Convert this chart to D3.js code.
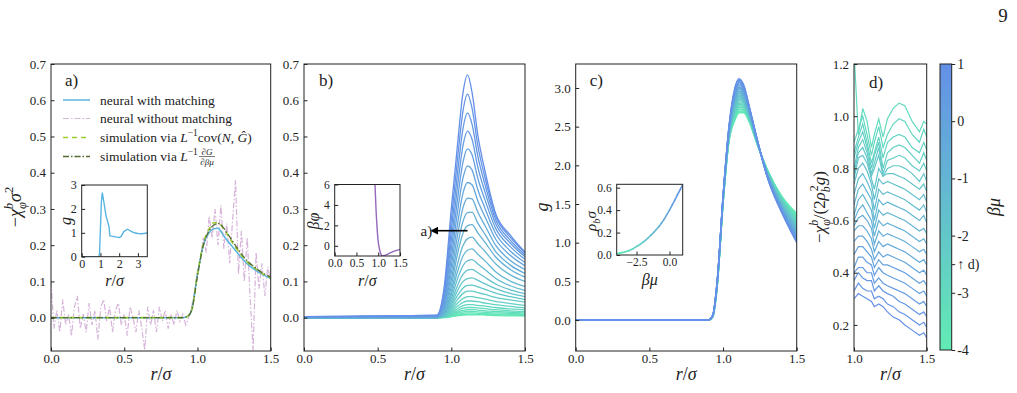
<!DOCTYPE html>
<html>
<head>
<meta charset="utf-8">
<script src="https://cdnjs.cloudflare.com/ajax/libs/d3/7.8.5/d3.min.js"></script>
<style>
body { margin: 0; background: #fff; }
svg { display: block; }
svg text { font-family: "Liberation Serif", "DejaVu Serif", serif; }
</style>
</head>
<body>
<svg id="fig" width="1017" height="393"></svg>
<script>
// beta*mu of every curve in b) and c), and bulk density for the c) inset
var muVals = [-4, -3.8, -3.6, -3.4, -3.2, -3, -2.8, -2.6, -2.4, -2.2, -2, -1.8, -1.6, -1.4, -1.2, -1, -0.8, -0.6, -0.4, -0.2, 0, 0.2, 0.4, 0.6, 0.8, 1];
var rhoVals = [0.014, 0.017, 0.021, 0.027, 0.034, 0.043, 0.054, 0.068, 0.082, 0.097, 0.114, 0.133, 0.154, 0.177, 0.201, 0.227, 0.254, 0.285, 0.32, 0.36, 0.40, 0.445, 0.49, 0.535, 0.58, 0.625];

// panel a)
var rA = [0, 0.9, 0.93, 0.96, 1.0, 1.04, 1.08, 1.11, 1.14, 1.17, 1.2, 1.25, 1.3, 1.35, 1.4, 1.45, 1.5];
var neuralMatch = [0, 0, 0.003, 0.02, 0.12, 0.2, 0.235, 0.245, 0.247, 0.232, 0.215, 0.19, 0.165, 0.145, 0.13, 0.118, 0.108];
var simCov = [0, 0, 0.003, 0.02, 0.12, 0.205, 0.245, 0.262, 0.262, 0.25, 0.232, 0.2, 0.172, 0.15, 0.134, 0.12, 0.11];
var simDeriv = [0, 0, 0.003, 0.02, 0.115, 0.2, 0.24, 0.255, 0.26, 0.252, 0.235, 0.205, 0.176, 0.153, 0.136, 0.122, 0.112];
var rNoisy = d3.range(0, 1.501, 0.02);
var neuralNoMatch = [0.10, -0.03, 0.02, -0.04, 0.05, -0.02, 0.01, -0.05, 0.03, 0.06, -0.03, 0.01, -0.04, 0.04, -0.02, 0.02,
  -0.06, 0.03, 0.05, -0.01, 0.03, -0.04, 0.02, 0.04, -0.02, 0.01, -0.05, 0.03, 0.00, -0.04, 0.02, -0.03, -0.09, 0.03,
  -0.02, 0.02, -0.04, 0.03, -0.01, 0.02, -0.03, 0.01, -0.02, 0.02, -0.01, 0.01, -0.02, 0.00, 0.03, 0.07, 0.13, 0.16,
  0.22, 0.18, 0.28, 0.22, 0.30, 0.20, 0.31, 0.19, 0.26, 0.15, 0.27, 0.38, 0.12, 0.24, 0.10, 0.22, 0.05, -0.09, 0.18,
  0.08, 0.15, 0.06, 0.14, 0.10];
var insetAR = [0, 0.9, 0.95, 1.0, 1.05, 1.1, 1.2, 1.3, 1.46, 1.5, 1.6, 1.8, 2.0, 2.1, 2.25, 2.43, 2.6, 2.8, 3.0, 3.2, 3.5];
var insetAG = [0, 0, 0.1, 1.2, 2.3, 2.68, 2.2, 1.7, 1.25, 0.88, 0.86, 0.83, 0.8, 0.85, 1.05, 1.15, 1.08, 1.0, 0.97, 0.96, 0.99];

// panel b)
var rB = [0, 0.9, 0.95, 1.0, 1.04, 1.08, 1.11, 1.14, 1.18, 1.23, 1.3, 1.4, 1.5];
var chiRows = [
  [0, 0, 0, .003, .005, .007, .008, .008, .008, .007, .006, .005, .005],
  [0, 0, .001, .003, .007, .009, .010, .010, .010, .009, .008, .007, .006],
  [0, 0, .001, .004, .009, .012, .013, .013, .012, .011, .010, .009, .008],
  [0, 0, .001, .006, .012, .016, .017, .017, .016, .015, .013, .012, .010],
  [0, 0, .001, .007, .015, .020, .022, .022, .021, .019, .017, .015, .013],
  [0, 0, .001, .009, .019, .026, .028, .028, .027, .025, .022, .019, .017],
  [0, 0, .002, .012, .024, .033, .036, .036, .034, .032, .028, .024, .022],
  [0, 0, .002, .015, .031, .042, .046, .046, .044, .040, .036, .031, .027],
  [0, 0, .003, .019, .039, .053, .058, .058, .055, .051, .045, .039, .034],
  [0, 0, .004, .024, .049, .067, .073, .073, .069, .064, .056, .049, .043],
  [0, 0, .005, .030, .060, .082, .089, .090, .085, .078, .068, .058, .050],
  [0, 0, .006, .036, .073, .100, .108, .110, .103, .093, .080, .067, .058],
  [0, 0, .007, .044, .087, .120, .131, .133, .124, .111, .093, .077, .066],
  [0, 0, .009, .053, .105, .144, .157, .160, .148, .132, .109, .088, .075],
  [0, 0, .011, .063, .124, .171, .186, .190, .175, .156, .127, .101, .086],
  [0, 0, .013, .073, .145, .200, .218, .222, .204, .182, .149, .118, .100],
  [0, 0, .016, .088, .172, .234, .254, .257, .234, .207, .168, .133, .112],
  [0, .001, .021, .104, .195, .267, .290, .291, .261, .229, .183, .145, .122],
  [0, .001, .026, .123, .223, .305, .330, .328, .291, .253, .200, .158, .133],
  [.001, .002, .032, .143, .253, .345, .373, .367, .322, .277, .217, .172, .143],
  [.001, .002, .038, .165, .286, .387, .419, .408, .353, .300, .233, .184, .152],
  [.001, .003, .045, .189, .320, .431, .466, .450, .384, .323, .247, .196, .161],
  [.002, .004, .053, .214, .355, .477, .515, .493, .415, .345, .260, .206, .168],
  [.002, .005, .061, .242, .391, .524, .565, .535, .445, .365, .271, .214, .173],
  [.003, .006, .070, .271, .430, .573, .617, .579, .474, .384, .281, .222, .178],
  [.003, .007, .080, .302, .469, .623, .670, .623, .503, .402, .288, .228, .181]
];
var insetBR = [0.9, 0.926, 0.95, 0.97, 1.0, 1.03, 1.06, 1.08, 1.1, 1.15, 1.2, 1.3, 1.4, 1.5];
var insetBPhi = [8, 6, 3.5, 2.0, 0.4, -0.35, -0.8, -0.95, -1.0, -0.95, -0.85, -0.65, -0.48, -0.35];

// panel c)
var rC = [0, 0.9, 0.93, 0.96, 1.0, 1.04, 1.08, 1.11, 1.14, 1.18, 1.23, 1.3, 1.4, 1.5];
var gRows = [
  [0, 0, .04, .42, 1.5, 2.3, 2.58, 2.68, 2.68, 2.55, 2.28, 1.95, 1.6, 1.38],
  [0, 0, .04, .42, 1.5, 2.31, 2.6, 2.7, 2.69, 2.56, 2.28, 1.95, 1.59, 1.36],
  [0, 0, .04, .43, 1.51, 2.32, 2.61, 2.72, 2.71, 2.57, 2.29, 1.94, 1.58, 1.35],
  [0, 0, .04, .43, 1.51, 2.32, 2.63, 2.73, 2.72, 2.57, 2.29, 1.94, 1.57, 1.33],
  [0, 0, .04, .43, 1.52, 2.33, 2.65, 2.75, 2.74, 2.58, 2.29, 1.93, 1.56, 1.32],
  [0, 0, .04, .44, 1.52, 2.34, 2.66, 2.77, 2.75, 2.59, 2.29, 1.93, 1.56, 1.30],
  [0, 0, .04, .44, 1.52, 2.35, 2.68, 2.79, 2.77, 2.6, 2.3, 1.93, 1.55, 1.29],
  [0, 0, .05, .44, 1.53, 2.36, 2.7, 2.8, 2.78, 2.61, 2.3, 1.92, 1.54, 1.27],
  [0, 0, .05, .45, 1.53, 2.36, 2.71, 2.82, 2.8, 2.61, 2.3, 1.92, 1.53, 1.26],
  [0, 0, .05, .45, 1.54, 2.37, 2.73, 2.84, 2.81, 2.62, 2.31, 1.91, 1.52, 1.24],
  [0, 0, .05, .45, 1.54, 2.38, 2.75, 2.86, 2.82, 2.63, 2.31, 1.91, 1.51, 1.23],
  [0, 0, .05, .46, 1.54, 2.39, 2.76, 2.87, 2.84, 2.64, 2.31, 1.91, 1.5, 1.21],
  [0, 0, .05, .46, 1.55, 2.4, 2.78, 2.89, 2.85, 2.65, 2.31, 1.9, 1.49, 1.2],
  [0, 0, .05, .46, 1.55, 2.4, 2.8, 2.91, 2.87, 2.65, 2.32, 1.9, 1.49, 1.18],
  [0, 0, .05, .46, 1.56, 2.41, 2.82, 2.93, 2.88, 2.66, 2.32, 1.89, 1.48, 1.17],
  [0, 0, .05, .47, 1.56, 2.42, 2.83, 2.94, 2.9, 2.67, 2.32, 1.89, 1.47, 1.15],
  [0, 0, .05, .47, 1.56, 2.43, 2.85, 2.96, 2.91, 2.68, 2.32, 1.89, 1.46, 1.14],
  [0, 0, .05, .47, 1.57, 2.44, 2.87, 2.98, 2.92, 2.69, 2.33, 1.88, 1.45, 1.12],
  [0, 0, .05, .48, 1.57, 2.44, 2.88, 3.0, 2.94, 2.69, 2.33, 1.88, 1.44, 1.11],
  [0, 0, .06, .48, 1.58, 2.45, 2.9, 3.01, 2.95, 2.7, 2.33, 1.87, 1.43, 1.09],
  [0, 0, .06, .48, 1.58, 2.46, 2.92, 3.03, 2.97, 2.71, 2.34, 1.87, 1.42, 1.08],
  [0, 0, .06, .49, 1.58, 2.47, 2.93, 3.05, 2.98, 2.72, 2.34, 1.87, 1.42, 1.06],
  [0, 0, .06, .49, 1.59, 2.48, 2.95, 3.07, 3.0, 2.73, 2.34, 1.86, 1.41, 1.05],
  [0, 0, .06, .49, 1.59, 2.48, 2.97, 3.08, 3.01, 2.73, 2.34, 1.86, 1.40, 1.03],
  [0, 0, .06, .5, 1.6, 2.49, 2.98, 3.1, 3.03, 2.74, 2.35, 1.85, 1.39, 1.02],
  [0, 0, .06, .5, 1.6, 2.5, 3.0, 3.12, 3.04, 2.75, 2.35, 1.85, 1.38, 1.0]
];

// panel d)
var muD = [-3, -2.8, -2.6, -2.4, -2.2, -2, -1.8, -1.6, -1.4, -1.2, -1, -0.8, -0.6, -0.4, -0.2, 0, 0.2, 0.4, 0.6, 0.8, 1];
var rD = [1.0, 1.03, 1.06, 1.09, 1.12, 1.14, 1.17, 1.2, 1.23, 1.27, 1.31, 1.35, 1.4, 1.45, 1.48, 1.5];
var ratioRows = [
  [1.25, 0.93, 1.03, 0.98, 0.88, 0.93, 0.99, 0.92, 0.99, 1.03, 1.05, 1.04, 0.98, 0.94, 0.98, 0.97],
  [0.90, 0.95, 1.00, 0.93, 0.85, 0.90, 0.96, 0.88, 0.93, 0.97, 0.99, 0.98, 0.93, 0.90, 0.95, 0.92],
  [0.86, 0.92, 0.97, 0.90, 0.82, 0.86, 0.92, 0.84, 0.90, 0.92, 0.93, 0.92, 0.88, 0.86, 0.90, 0.87],
  [0.84, 0.90, 0.94, 0.88, 0.80, 0.85, 0.90, 0.80, 0.86, 0.88, 0.89, 0.88, 0.85, 0.82, 0.86, 0.83],
  [0.80, 0.88, 0.91, 0.86, 0.78, 0.82, 0.88, 0.78, 0.83, 0.84, 0.85, 0.84, 0.81, 0.79, 0.82, 0.79],
  [0.78, 0.86, 0.88, 0.84, 0.77, 0.80, 0.85, 0.77, 0.80, 0.81, 0.81, 0.80, 0.78, 0.75, 0.78, 0.75],
  [0.76, 0.84, 0.85, 0.82, 0.76, 0.72, 0.80, 0.77, 0.78, 0.78, 0.77, 0.76, 0.74, 0.72, 0.74, 0.71],
  [0.74, 0.80, 0.82, 0.79, 0.74, 0.68, 0.76, 0.74, 0.75, 0.74, 0.73, 0.72, 0.70, 0.68, 0.70, 0.67],
  [0.70, 0.76, 0.78, 0.75, 0.71, 0.64, 0.72, 0.70, 0.71, 0.70, 0.69, 0.68, 0.66, 0.64, 0.66, 0.63],
  [0.66, 0.72, 0.74, 0.71, 0.68, 0.60, 0.68, 0.66, 0.67, 0.66, 0.65, 0.64, 0.62, 0.60, 0.62, 0.59],
  [0.62, 0.68, 0.70, 0.67, 0.64, 0.57, 0.64, 0.62, 0.63, 0.62, 0.61, 0.60, 0.58, 0.56, 0.57, 0.55],
  [0.60, 0.64, 0.66, 0.63, 0.60, 0.54, 0.60, 0.58, 0.59, 0.58, 0.57, 0.56, 0.54, 0.52, 0.53, 0.51],
  [0.58, 0.61, 0.62, 0.60, 0.57, 0.51, 0.56, 0.54, 0.55, 0.54, 0.53, 0.52, 0.50, 0.48, 0.49, 0.47],
  [0.56, 0.58, 0.58, 0.56, 0.53, 0.48, 0.52, 0.50, 0.51, 0.50, 0.49, 0.48, 0.46, 0.44, 0.45, 0.43],
  [0.52, 0.54, 0.54, 0.52, 0.49, 0.45, 0.48, 0.46, 0.47, 0.46, 0.45, 0.44, 0.42, 0.40, 0.41, 0.39],
  [0.47, 0.50, 0.50, 0.48, 0.46, 0.42, 0.45, 0.43, 0.43, 0.42, 0.41, 0.40, 0.38, 0.36, 0.37, 0.35],
  [0.42, 0.46, 0.46, 0.44, 0.43, 0.39, 0.42, 0.40, 0.39, 0.38, 0.37, 0.36, 0.34, 0.32, 0.33, 0.31],
  [0.40, 0.42, 0.42, 0.40, 0.40, 0.36, 0.38, 0.36, 0.35, 0.34, 0.33, 0.32, 0.30, 0.28, 0.29, 0.27],
  [0.37, 0.40, 0.38, 0.37, 0.37, 0.33, 0.35, 0.33, 0.32, 0.31, 0.29, 0.28, 0.26, 0.24, 0.25, 0.23],
  [0.33, 0.36, 0.34, 0.33, 0.33, 0.30, 0.31, 0.30, 0.28, 0.27, 0.25, 0.24, 0.22, 0.20, 0.21, 0.19],
  [0.30, 0.32, 0.31, 0.30, 0.29, 0.27, 0.28, 0.27, 0.25, 0.23, 0.22, 0.20, 0.18, 0.16, 0.17, 0.15]
];

var cbTicks = [-4, -3, -2.5, -2, -1, 0, 1];

var font = "Liberation Serif, DejaVu Serif, serif";
var ink = "#222";
var cmap = d3.scaleLinear().domain([-4, 1]).range(["#62ecb4", "#6490e8"]);
var svg = d3.select("#fig").attr("font-family", font);
var clipN = 0;

function panel(x0, y0, w, h, xDom, yDom) {
  var g = svg.append("g").attr("transform", "translate(" + x0 + "," + y0 + ")");
  var id = "clip" + clipN++;
  g.append("clipPath").attr("id", id).append("rect").attr("width", w).attr("height", h);
  return {
    g: g, w: w, h: h, clip: "url(#" + id + ")",
    x: d3.scaleLinear().domain(xDom).range([0, w]),
    y: d3.scaleLinear().domain(yDom).range([h, 0])
  };
}

function axes(p, xt, yt, xf, yf, fs) {
  var ax = p.g.append("g").attr("transform", "translate(0," + p.h + ")")
    .call(d3.axisBottom(p.x).tickValues(xt).tickFormat(xf).tickSizeInner(-3.5).tickSizeOuter(0).tickPadding(3));
  var ay = p.g.append("g")
    .call(d3.axisLeft(p.y).tickValues(yt).tickFormat(yf).tickSizeInner(-3.5).tickSizeOuter(0).tickPadding(5));
  [ax, ay].forEach(function(a) {
    a.attr("font-family", font).attr("font-size", fs);
    a.select(".domain").remove();
    a.selectAll("line").attr("stroke", ink);
    a.selectAll("text").attr("fill", ink);
  });
  p.g.append("rect").attr("width", p.w).attr("height", p.h)
    .attr("fill", "none").attr("stroke", ink).attr("stroke-width", 1);
}

function line(p, xs, curve) {
  return d3.line()
    .x(function(d, i) { return p.x(xs[i]); })
    .y(function(d) { return p.y(d); })
    .curve(curve || d3.curveMonotoneX);
}

// text with italic / super / subscript pieces
function rich(t, parts, fs) {
  var shift = 0;
  parts.forEach(function(q) {
    var target = q.sup ? -0.42 * fs : q.sub ? 0.28 * fs : 0;
    var s = t.append("tspan").text(q.t).attr("dy", target - shift);
    shift = target;
    if (q.it) s.attr("font-style", "italic");
    if (q.sup || q.sub) s.attr("font-size", fs * 0.7);
    if (q.dx) s.attr("dx", q.dx);
  });
  return t;
}

function xlabel(p, y, fs) {
  fs = fs || 18;
  rich(p.g.append("text").attr("x", p.w / 2).attr("y", y).attr("text-anchor", "middle")
    .attr("font-size", fs).attr("fill", ink), [{t: "r", it: 1}, {t: "/"}, {t: "σ", it: 1}], fs);
}

var f1 = d3.format(".1f");

// ---------- a) ----------
var pa = panel(51, 64, 219.7, 287, [0, 1.5], [-0.092, 0.7]);
var la = pa.g.append("g").attr("clip-path", pa.clip);
la.append("path").attr("d", line(pa, rNoisy, d3.curveLinear)(neuralNoMatch))
  .attr("fill", "none").attr("stroke", "#d6b3d9").attr("stroke-width", 1.2).attr("stroke-dasharray", "6,2,1.5,2");
la.append("path").attr("d", line(pa, rA)(neuralMatch))
  .attr("fill", "none").attr("stroke", "#5ab4e0").attr("stroke-width", 1.5);
la.append("path").attr("d", line(pa, rA)(simCov))
  .attr("fill", "none").attr("stroke", "#9acd32").attr("stroke-width", 1.6).attr("stroke-dasharray", "5,4");
la.append("path").attr("d", line(pa, rA)(simDeriv))
  .attr("fill", "none").attr("stroke", "#556b2f").attr("stroke-width", 1.3).attr("stroke-dasharray", "6,2,1.5,2");
axes(pa, [0, 0.5, 1, 1.5], d3.range(0, 0.71, 0.1), f1, f1, 13);
xlabel(pa, 316);
rich(svg.append("text").attr("transform", "translate(21,207) rotate(-90)").attr("text-anchor", "middle")
  .attr("font-size", 18).attr("fill", ink),
  [{t: "−"}, {t: "χ", it: 1}, {t: "b", it: 1, sup: 1}, {t: "φ", it: 1, sub: 1, dx: -6}, {t: "σ", it: 1}, {t: "2", sup: 1}], 18);
pa.g.append("text").attr("x", 14).attr("y", 22).attr("font-size", 17).attr("fill", ink).text("a)");

// legend
var legendItems = [
  {color: "#5ab4e0", dash: null, w: 1.5},
  {color: "#d6b3d9", dash: "6,2,1.5,2", w: 1.2},
  {color: "#9acd32", dash: "5,4", w: 1.6},
  {color: "#556b2f", dash: "6,2,1.5,2", w: 1.3}
];
var legendY = [100, 118.5, 137.5, 156.5];
var leg = svg.append("g");
legendItems.forEach(function(it, i) {
  leg.append("line").attr("x1", 63).attr("x2", 90).attr("y1", legendY[i]).attr("y2", legendY[i])
    .attr("stroke", it.color).attr("stroke-width", it.w).attr("stroke-dasharray", it.dash);
});
var lt = function(i) {
  return leg.append("text").attr("x", 100).attr("y", legendY[i] + 4.5).attr("font-size", 13.5).attr("fill", ink);
};
lt(0).text("neural with matching");
lt(1).text("neural without matching");
rich(lt(2), [{t: "simulation via "}, {t: "L", it: 1}, {t: "−1", sup: 1}, {t: "cov("}, {t: "N", it: 1}, {t: ", "}, {t: "Ĝ", it: 1}, {t: ")"}], 13.5);
var t4 = rich(lt(3), [{t: "simulation via "}, {t: "L", it: 1}, {t: "−1", sup: 1}], 13.5);
var bb = t4.node().getBBox();
var fx = bb.x + bb.width + 9;
rich(leg.append("text").attr("x", fx).attr("y", legendY[3] - 2).attr("text-anchor", "middle").attr("font-size", 9).attr("fill", ink),
  [{t: "∂"}, {t: "G", it: 1}], 9);
leg.append("line").attr("x1", fx - 8).attr("x2", fx + 8).attr("y1", legendY[3]).attr("y2", legendY[3]).attr("stroke", ink).attr("stroke-width", 0.6);
rich(leg.append("text").attr("x", fx).attr("y", legendY[3] + 8).attr("text-anchor", "middle").attr("font-size", 9).attr("fill", ink),
  [{t: "∂"}, {t: "βμ", it: 1}], 9);

// inset a
var ia = panel(81.7, 185, 65.6, 71.7, [0, 3.5], [0, 3]);
ia.g.append("rect").attr("width", ia.w).attr("height", ia.h).attr("fill", "#fff");
ia.g.append("path").attr("clip-path", ia.clip).attr("d", line(ia, insetAR, d3.curveLinear)(insetAG))
  .attr("fill", "none").attr("stroke", "#5ab4e0").attr("stroke-width", 1.4);
axes(ia, [0, 1, 2, 3], [0, 1, 2, 3], d3.format("d"), d3.format("d"), 12);
xlabel(ia, 101, 16);
rich(svg.append("text").attr("transform", "translate(71,221) rotate(-90)").attr("text-anchor", "middle")
  .attr("font-size", 16).attr("fill", ink), [{t: "g", it: 1}], 16);

// ---------- b) ----------
var pb = panel(304, 64, 221, 287, [0, 1.5], [-0.092, 0.7]);
var lb = pb.g.append("g").attr("clip-path", pb.clip);
chiRows.forEach(function(row, i) {
  lb.append("path").attr("d", line(pb, rB)(row))
    .attr("fill", "none").attr("stroke", cmap(muVals[i])).attr("stroke-width", 1.3);
});
axes(pb, [0, 0.5, 1, 1.5], d3.range(0, 0.71, 0.1), f1, f1, 13);
xlabel(pb, 316);
pb.g.append("text").attr("x", 15).attr("y", 22).attr("font-size", 17).attr("fill", ink).text("b)");
svg.append("defs").append("marker").attr("id", "head").attr("viewBox", "0 0 10 10")
  .attr("refX", 2).attr("refY", 5).attr("markerWidth", 5).attr("markerHeight", 5).attr("orient", "auto")
  .append("path").attr("d", "M0,0L10,5L0,10z").attr("fill", "#000");
pb.g.append("line").attr("x1", pb.x(1.11)).attr("x2", pb.x(0.9)).attr("y1", pb.y(0.24)).attr("y2", pb.y(0.24))
  .attr("stroke", "#000").attr("stroke-width", 1.6).attr("marker-end", "url(#head)");
pb.g.append("text").attr("x", pb.x(0.87)).attr("y", pb.y(0.24) + 5).attr("text-anchor", "end")
  .attr("font-size", 15).attr("fill", ink).text("a)");

// inset b
var ib = panel(334.7, 184.5, 65.3, 71.5, [0, 1.5], [-1, 6]);
ib.g.append("rect").attr("width", ib.w).attr("height", ib.h).attr("fill", "#fff");
ib.g.append("path").attr("clip-path", ib.clip).attr("d", line(ib, insetBR)(insetBPhi))
  .attr("fill", "none").attr("stroke", "#9467bd").attr("stroke-width", 1.4);
axes(ib, [0, 0.5, 1, 1.5], [0, 2, 4, 6], f1, d3.format("d"), 11.5);
xlabel(ib, 101, 16);
rich(svg.append("text").attr("transform", "translate(319,221) rotate(-90)").attr("text-anchor", "middle")
  .attr("font-size", 16).attr("fill", ink), [{t: "βφ", it: 1}], 16);

// ---------- c) ----------
var pc = panel(575.7, 64, 221, 287, [0, 1.5], [-0.4, 3.31]);
var lc = pc.g.append("g").attr("clip-path", pc.clip);
gRows.forEach(function(row, i) {
  lc.append("path").attr("d", line(pc, rC)(row))
    .attr("fill", "none").attr("stroke", cmap(muVals[i])).attr("stroke-width", 1.4);
});
axes(pc, [0, 0.5, 1, 1.5], d3.range(0, 3.01, 0.5), f1, f1, 13);
xlabel(pc, 316);
rich(svg.append("text").attr("transform", "translate(548,207) rotate(-90)").attr("text-anchor", "middle")
  .attr("font-size", 18).attr("fill", ink), [{t: "g", it: 1}], 18);
pc.g.append("text").attr("x", 14).attr("y", 22).attr("font-size", 17).attr("fill", ink).text("c)");

// inset c
var ic = panel(616.7, 184.3, 66, 70.7, [-4, 1], [0, 0.63]);
ic.g.append("rect").attr("width", ic.w).attr("height", ic.h).attr("fill", "#fff");
var segs = ic.g.append("g").attr("clip-path", ic.clip);
muVals.slice(1).forEach(function(m, i) {
  segs.append("line")
    .attr("x1", ic.x(muVals[i])).attr("y1", ic.y(rhoVals[i]))
    .attr("x2", ic.x(m)).attr("y2", ic.y(rhoVals[i + 1]))
    .attr("stroke", cmap((muVals[i] + m) / 2)).attr("stroke-width", 1.6).attr("stroke-linecap", "round");
});
axes(ic, [-2.5, 0], [0, 0.2, 0.4, 0.6], f1, f1, 11.5);
rich(ic.g.append("text").attr("x", ic.w / 2).attr("y", 101).attr("text-anchor", "middle")
  .attr("font-size", 16).attr("fill", ink), [{t: "βμ", it: 1}], 16);
rich(svg.append("text").attr("transform", "translate(596,221) rotate(-90)").attr("text-anchor", "middle")
  .attr("font-size", 15).attr("fill", ink), [{t: "ρ", it: 1}, {t: "b", it: 1, sub: 1}, {t: "σ", it: 1}], 15);

// ---------- d) ----------
var pd = panel(854, 64, 72.7, 287, [1, 1.5], [0.1, 1.2]);
var ld = pd.g.append("g").attr("clip-path", pd.clip);
ratioRows.forEach(function(row, i) {
  ld.append("path").attr("d", line(pd, rD, d3.curveLinear)(row))
    .attr("fill", "none").attr("stroke", cmap(muD[i])).attr("stroke-width", 1.2);
});
axes(pd, [1, 1.5], [0.2, 0.4, 0.6, 0.8, 1.0, 1.2], f1, f1, 13);
xlabel(pd, 316);
pd.g.append("text").attr("x", 15).attr("y", 24).attr("font-size", 17).attr("fill", ink).text("d)");
rich(svg.append("text").attr("transform", "translate(825,207) rotate(-90)").attr("text-anchor", "middle")
  .attr("font-size", 17).attr("fill", ink),
  [{t: "−"}, {t: "χ", it: 1}, {t: "b", it: 1, sup: 1}, {t: "φ", it: 1, sub: 1, dx: -6}, {t: "/(2"}, {t: "ρ", it: 1},
   {t: "b", it: 1, sub: 1}, {t: "2", sup: 1, dx: -5}, {t: "g", it: 1}, {t: ")"}], 17);

// ---------- colorbar ----------
var grad = svg.select("defs").append("linearGradient").attr("id", "cbg")
  .attr("x1", 0).attr("y1", 1).attr("x2", 0).attr("y2", 0);
grad.append("stop").attr("offset", 0).attr("stop-color", cmap(-4));
grad.append("stop").attr("offset", 1).attr("stop-color", cmap(1));
var cb = svg.append("g").attr("transform", "translate(940,64)");
var cbScale = d3.scaleLinear().domain([-4, 1]).range([286, 0]);
cb.append("rect").attr("width", 11.7).attr("height", 286).attr("fill", "url(#cbg)").attr("stroke", ink).attr("stroke-width", 1);
var cax = cb.append("g").attr("transform", "translate(11.7,0)")
  .call(d3.axisRight(cbScale).tickValues(cbTicks).tickSizeInner(3.5).tickSizeOuter(0).tickPadding(2)
    .tickFormat(function(v) { return v === -2.5 ? "↑ d)" : String(v); }));
cax.attr("font-family", font).attr("font-size", 14);
cax.select(".domain").remove();
cax.selectAll("line").attr("stroke", ink);
cax.selectAll("text").attr("fill", ink);
rich(svg.append("text").attr("transform", "translate(1000,207) rotate(-90)").attr("text-anchor", "middle")
  .attr("font-size", 18).attr("fill", ink), [{t: "βμ", it: 1}], 18);

// page number
svg.append("text").attr("x", 1003).attr("y", 22).attr("text-anchor", "middle").attr("font-size", 19).attr("fill", ink).text("9");
</script>
</body>
</html>
